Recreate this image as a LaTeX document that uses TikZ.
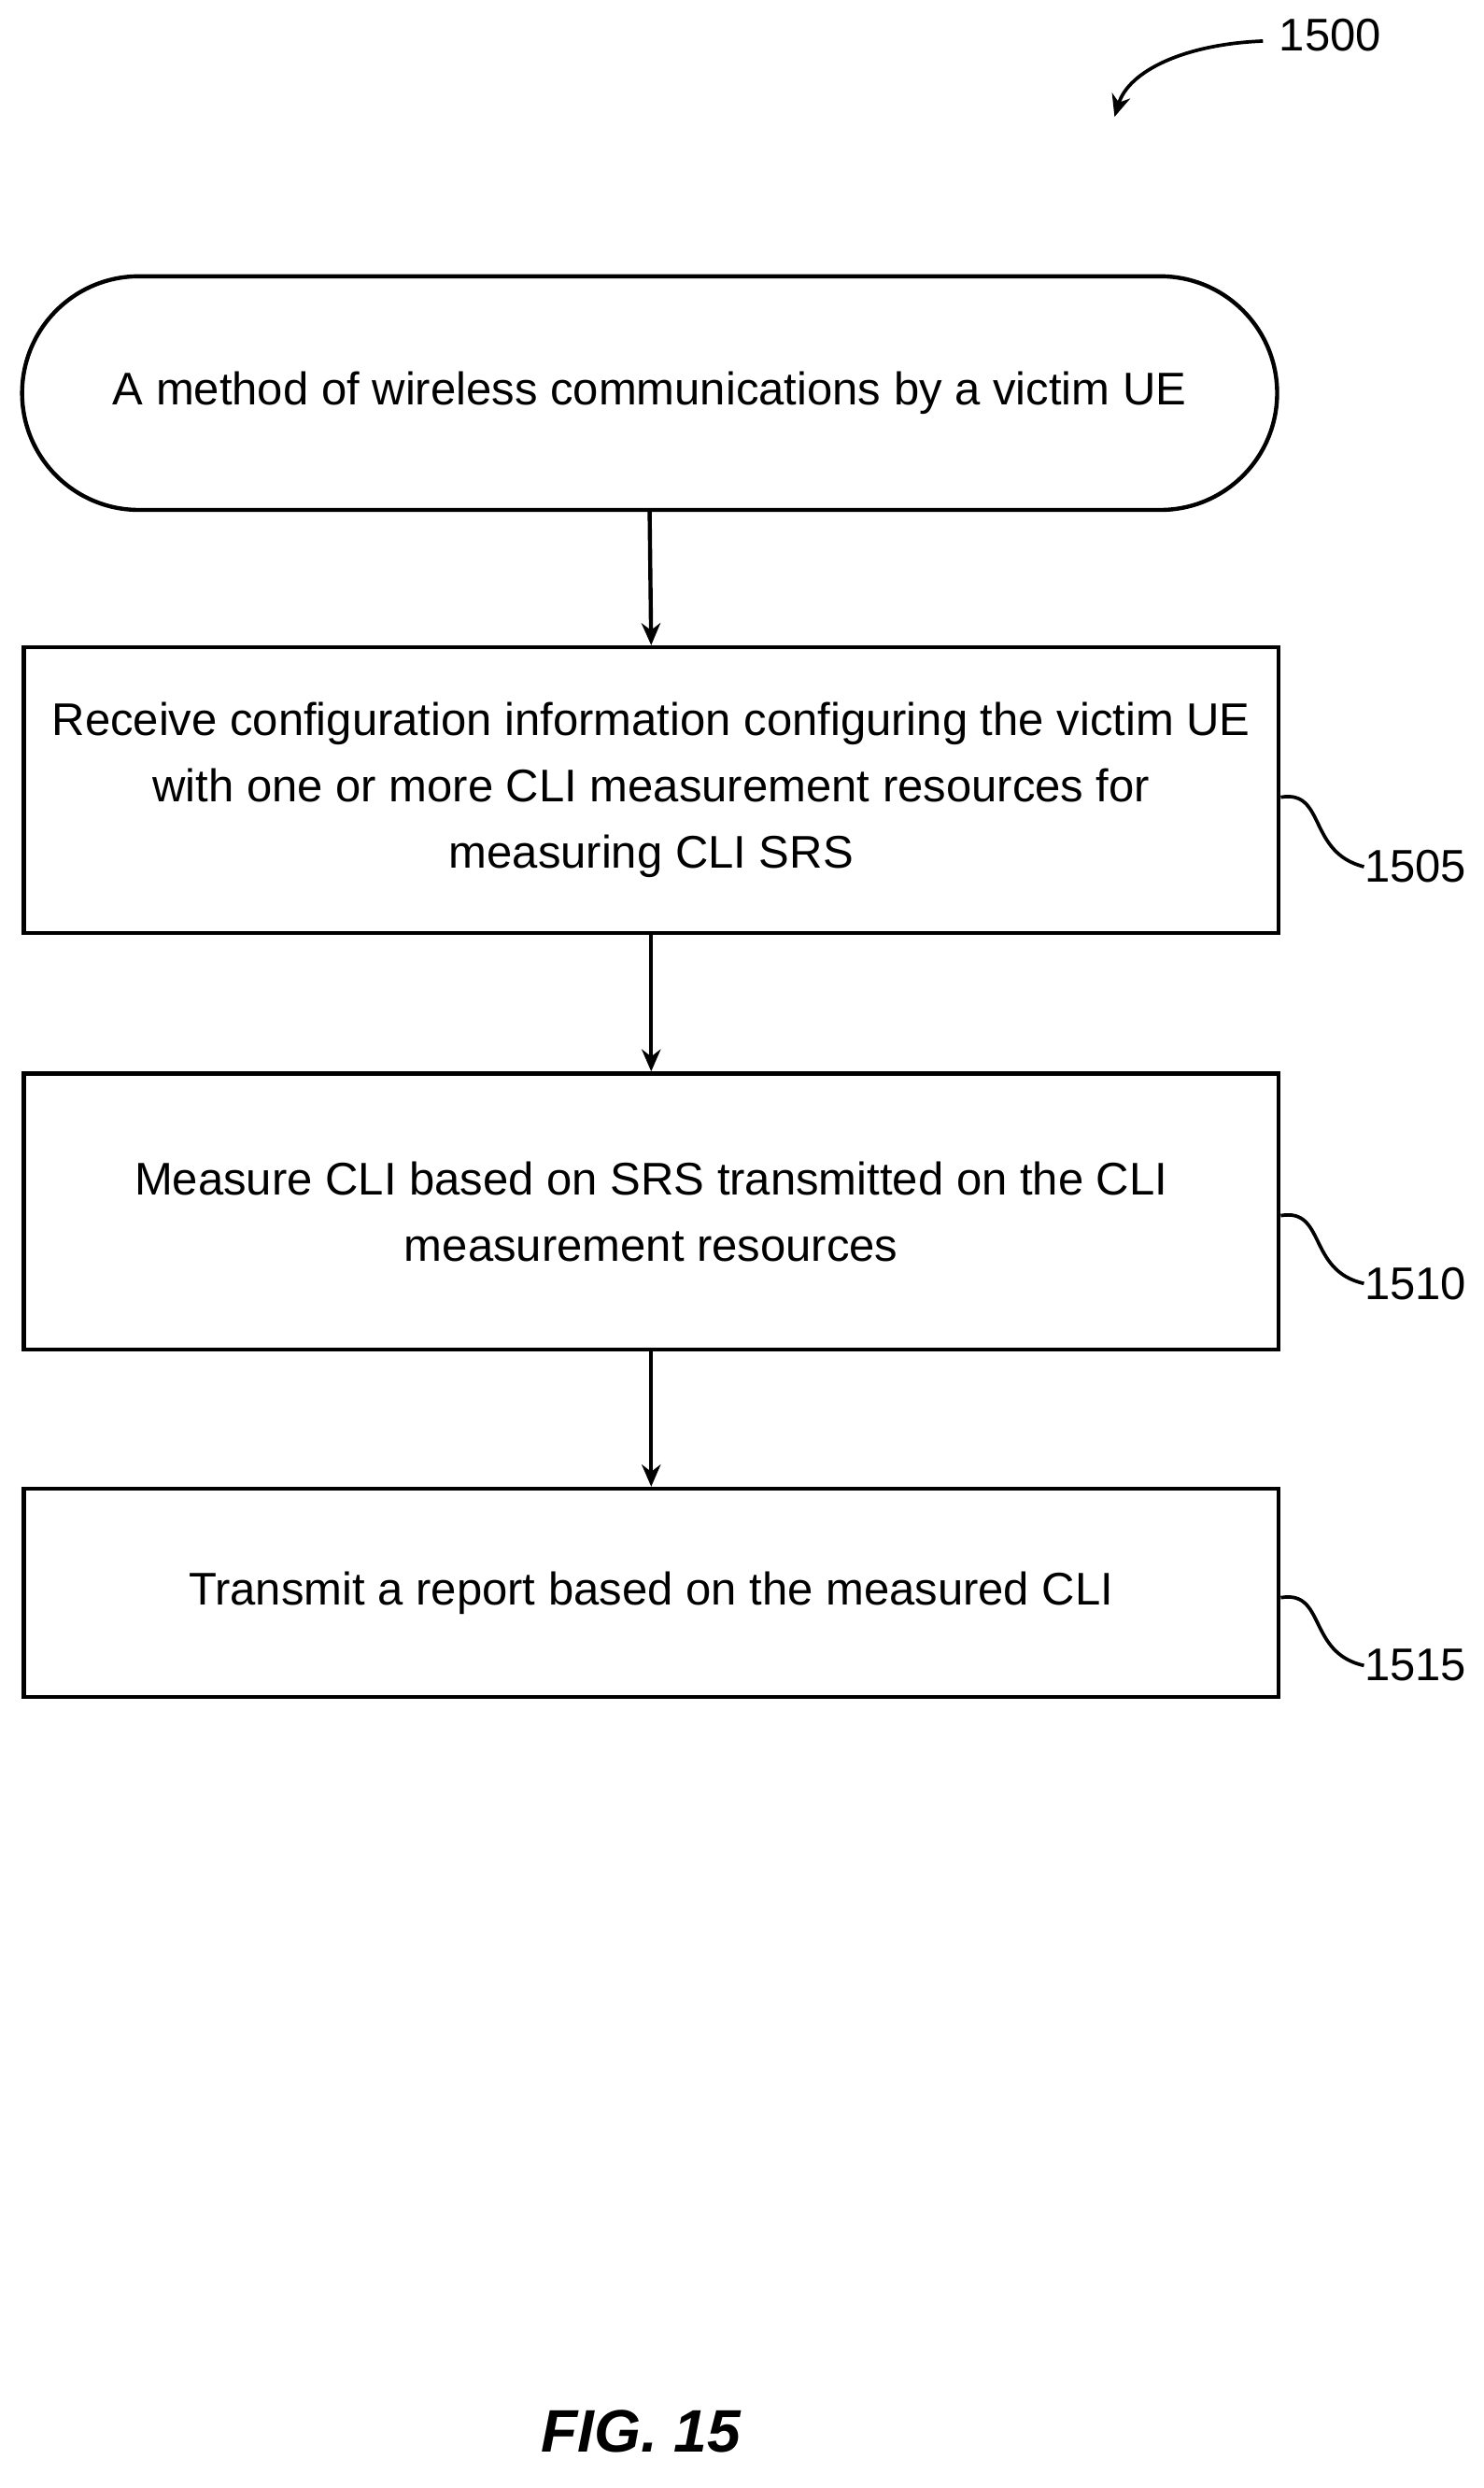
\documentclass[tikz,border=0pt]{standalone}
\usepackage{fontspec}
\setmainfont{Liberation Sans}
\usetikzlibrary{positioning,arrows.meta}
\tikzset{
  stepbox/.style={draw,line width=1.3pt,minimum width=397.5pt,align=center,font=\fontsize{14.5}{21}\selectfont},
  term/.style={stepbox,rounded corners=37pt,minimum height=74pt},
  flow/.style={-{Stealth[length=7pt,width=6pt]},line width=1.3pt},
  lead/.style={line width=1.1pt},
  refno/.style={font=\fontsize{14.5}{17}\selectfont,anchor=west,inner sep=0pt}
}
\begin{document}
\begin{tikzpicture}[x=0.5pt,y=-0.5pt]
\useasboundingbox (0,0) rectangle (940,1576);
% steps
\node[term] (start) at (411.5,249) {A method of wireless communications by a victim UE};
\node[stepbox,minimum height=90.5pt] (s1505) at (412.5,500.5) {Receive configuration information configuring the victim UE\\with one or more CLI measurement resources for\\measuring CLI SRS};
\node[stepbox,minimum height=87.5pt] (s1510) at (412.5,767.5) {Measure CLI based on SRS transmitted on the CLI\\measurement resources};
\node[stepbox,minimum height=66pt] (s1515) at (412.5,1009) {Transmit a report based on the measured CLI};
% arrows
\draw[flow] (start.south) -- (s1505.north);
\draw[flow] (s1505.south) -- (s1510.north);
\draw[flow] (s1510.south) -- (s1515.north);
% reference numerals
\node[refno] (n1505) at (864,549) {1505};
\node[refno] (n1510) at (864,813) {1510};
\node[refno] (n1515) at (864,1055) {1515};
\draw[lead] (s1505.east |- 0,505) .. controls (840,500) and (828,540) .. (n1505.west);
\draw[lead] (s1510.east |- 0,770) .. controls (840,765) and (828,805) .. (n1510.west);
\draw[lead] (s1515.east |- 0,1012) .. controls (840,1007) and (828,1047) .. (n1515.west);
\node[refno] (n1500) at (810,22) {1500};
\coordinate (tip1500) at (706,74);
\draw[flow,line width=1.1pt] (n1500.west) ++(-10,4) .. controls (750,28) and (715,45) .. (tip1500);
% figure label
\node[font=\bfseries\itshape\fontsize{19}{22}\selectfont] (fig) at (406,1540) {FIG. 15};
\end{tikzpicture}
\end{document}
